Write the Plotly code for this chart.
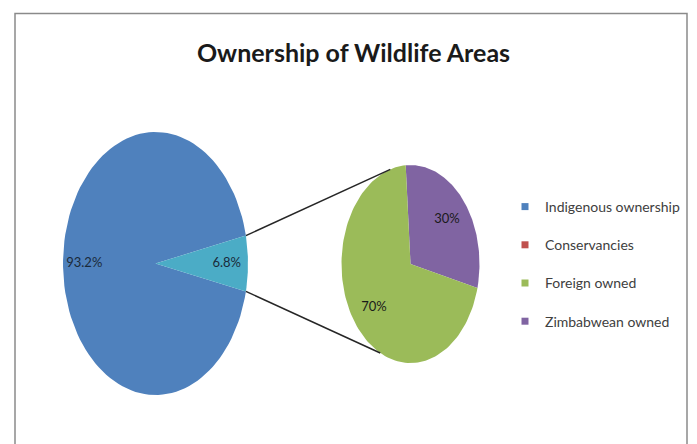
import numpy as np
import plotly.graph_objects as go

# ---- data ----
main_labels = ["Indigenous ownership", "Other"]
main_values = [93.2, 6.8]
sub_labels = ["Foreign owned", "Zimbabwean owned"]
sub_values = [70, 30]
sub_text = ["70%", "30%"]
legend_labels = ["Indigenous ownership", "Conservancies", "Foreign owned", "Zimbabwean owned"]

# ---- style / layout constants ----
W, H = 697, 444          # browser window
OFF = 8                  # default page body margin
FW, FH = W - OFF, H - OFF
colors = {
    "Indigenous ownership": "#4F81BD",
    "Other": "#4BACC6",
    "Conservancies": "#C0504D",
    "Foreign owned": "#9BBB59",
    "Zimbabwean owned": "#8064A2",
}
MAIN_C, MAIN_R = (155.5, 263.5), (92.5, 131.5)
SUB_C, SUB_R = (410.5, 264.0), (69.0, 99.0)
SUB_START = -4.0          # clock angle (deg) where the first secondary slice begins
FONT = "Lato, 'DejaVu Sans', sans-serif"

fig = go.Figure()


def ellipse_pt(c, r, clock_deg):
    a = np.radians(clock_deg)
    return c[0] + r[0] * np.sin(a), c[1] - r[1] * np.cos(a)


def sector(c, r, a0, a1, n=120):
    t = np.linspace(a0, a1, n)
    xs, ys = ellipse_pt(c, r, t)
    return np.concatenate([[c[0]], xs, [c[0]]]), np.concatenate([[c[1]], ys, [c[1]]])


# main pie: "Other" slice centred at 3 o'clock (clock angle 90)
tot = sum(main_values)
other_span = main_values[1] / tot * 360
main_spans = {
    "Other": (90 - other_span / 2, 90 + other_span / 2),
    "Indigenous ownership": (90 + other_span / 2, 450 - other_span / 2),
}
main_text = {lab: f"{v:.1f}%" for lab, v in zip(main_labels, main_values)}
for lab in main_labels:
    a0, a1 = main_spans[lab]
    xs, ys = sector(MAIN_C, MAIN_R, a0, a1)
    fig.add_trace(go.Scatter(x=xs, y=ys, mode="lines", fill="toself",
                             fillcolor=colors[lab], line=dict(width=0, color=colors[lab]),
                             showlegend=False, hoverinfo="text", text=lab))
    mid = (a0 + a1) / 2
    tx, ty = ellipse_pt(MAIN_C, MAIN_R, mid)
    tx = MAIN_C[0] + (tx - MAIN_C[0]) * 0.77
    ty = MAIN_C[1] + (ty - MAIN_C[1]) * 0.77
    fig.add_trace(go.Scatter(x=[tx], y=[ty], mode="text", text=[main_text[lab]],
                             textfont=dict(family=FONT, size=13, color="#1a2a3a"),
                             showlegend=False, hoverinfo="skip"))

# secondary pie: Zimbabwean owned first (clockwise from top), then Foreign owned
stot = sum(sub_values)
order = [1, 0]
a = SUB_START
for i in order:
    span = sub_values[i] / stot * 360
    a0, a1 = a, a + span
    a = a1
    lab = sub_labels[i]
    xs, ys = sector(SUB_C, SUB_R, a0, a1)
    fig.add_trace(go.Scatter(x=xs, y=ys, mode="lines", fill="toself",
                             fillcolor=colors[lab], line=dict(width=0, color=colors[lab]),
                             showlegend=False, hoverinfo="text", text=lab))
    mid = (a0 + a1) / 2
    tx, ty = ellipse_pt(SUB_C, SUB_R, mid)
    tx = SUB_C[0] + (tx - SUB_C[0]) * 0.69
    ty = SUB_C[1] + (ty - SUB_C[1]) * 0.69
    fig.add_trace(go.Scatter(x=[tx], y=[ty], mode="text", text=[sub_text[i]],
                             textfont=dict(family=FONT, size=13, color="#1a1a1a"),
                             showlegend=False, hoverinfo="skip"))

# connector lines from the "Other" slice to the secondary pie
o0, o1 = main_spans["Other"]
p_top = ellipse_pt(MAIN_C, MAIN_R, o0)
p_bot = ellipse_pt(MAIN_C, MAIN_R, o1)
q_top = ellipse_pt(SUB_C, SUB_R, -17)
q_bot = ellipse_pt(SUB_C, SUB_R, 206)
for p, q in [(p_top, q_top), (p_bot, q_bot)]:
    fig.add_trace(go.Scatter(x=[p[0], q[0]], y=[p[1], q[1]], mode="lines",
                             line=dict(color="#262626", width=1.5),
                             showlegend=False, hoverinfo="skip"))

# legend entries
for lab in legend_labels:
    fig.add_trace(go.Scatter(x=[None], y=[None], mode="markers", name=lab,
                             legendgroup=lab,
                             marker=dict(symbol="square", size=7, color=colors[lab])))

fig.update_layout(
    width=FW, height=FH,
    margin=dict(l=0, r=0, t=0, b=0),
    paper_bgcolor="white", plot_bgcolor="white",
    xaxis=dict(range=[OFF, OFF + FW], visible=False, fixedrange=True),
    yaxis=dict(range=[OFF + FH, OFF], visible=False, fixedrange=True),
    title=dict(text="<b>Ownership of Wildlife Areas</b>", x=(353.5 - OFF) / FW, xanchor="center",
               y=1 - (53 - OFF) / FH, yanchor="middle",
               font=dict(family=FONT, size=25, color="#1a1a1a")),
    legend=dict(x=(505 - OFF) / FW, xanchor="left", y=1 - (191 - OFF) / FH, yanchor="top",
                font=dict(family=FONT, size=14, color="#404040"),
                tracegroupgap=17, itemwidth=30, bgcolor="rgba(0,0,0,0)"),
    shapes=[dict(type="rect", xref="x", yref="y",
                 x0=15, x1=687, y0=13.5, y1=480,
                 line=dict(color="#8a8a8a", width=1.5), fillcolor="rgba(0,0,0,0)")],
    showlegend=True,
)

fig.write_html("out.html")
